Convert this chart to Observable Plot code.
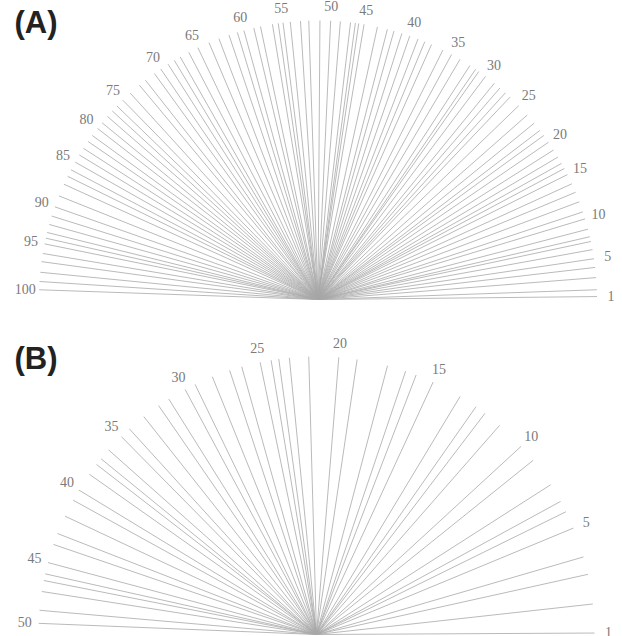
<!DOCTYPE html>
<html><head><meta charset="utf-8">
<script src="https://cdn.jsdelivr.net/npm/d3@7"></script>
<script src="https://cdn.jsdelivr.net/npm/@observablehq/plot@0.6"></script>
<style>body{margin:0;background:#fff} #c svg{display:block}</style>
</head><body><div id="c"></div>
<script>
// Ray angles (degrees)
const anglesA = [0.6,2.0,4.5,6.6,8.4,10.3,12.0,13.0,14.6,16.8,
  18.3,20.5,22.6,24.5,26.6,28.0,29.2,30.7,32.4,34.3,
  36.0,37.3,39.2,41.4,44.0,46.5,47.8,49.3,50.8,53.1,
  54.8,55.6,57.0,59.4,61.4,63.4,66.0,67.5,69.0,70.8,
  72.5,74.2,75.6,77.7,80.5,81.6,82.3,83.3,85.4,87.4,
  89.6,91.9,93.6,95.7,97.2,98.2,99.4,101.9,103.3,105.4,
  106.8,108.6,110.8,113.0,115.5,117.6,119.6,121.0,122.5,124.3,
  125.9,128.2,129.8,132.3,134.4,136.1,137.5,139.0,140.7,142.2,
  144.0,145.5,147.2,148.8,150.5,152.3,153.8,155.6,158.2,160.6,
  162.6,164.4,166.1,167.3,168.5,170.5,172.2,174.4,176.3,178.0];
const anglesB = [0.3,6.3,12.5,16.2,22.5,26.2,28.6,32.6,38.8,42.6,
  48.8,52.7,55.0,58.9,65.2,69.0,71.3,75.2,81.6,85.4,
  91.6,95.6,97.8,99.4,101.7,105.6,108.2,112.0,115.9,118.2,
  122.1,124.6,128.4,132.3,134.6,138.4,140.8,142.3,144.8,148.7,
  151.1,154.8,158.7,161.1,165.0,167.4,168.8,171.1,175.0,177.7];
const labelStep = 5;
const panelLabels = ["(A)", "(B)"];

function fan(angles, label, cx, cy, r, h, labelDy) {
  const rays = angles.map((a, i) => ({id: i + 1, a}));
  const labelled = rays.filter(d => d.id === 1 || d.id % labelStep === 0);
  const rad = d => d.a * Math.PI / 180;
  return Plot.plot({
    width: 622, height: h, margin: 0,
    x: {domain: [-1, 1], range: [cx - r, cx + r], axis: null},
    y: {domain: [0, 1], range: [cy, cy - r], axis: null},
    marks: [
      Plot.link(rays, {x1: d => 0, y1: d => 0,
        x2: d => Math.cos(rad(d)), y2: d => Math.sin(rad(d)),
        stroke: "#a8a8a8", strokeWidth: 0.8}),
      Plot.text(labelled, {x: d => 1.05 * Math.cos(rad(d)), y: d => 1.05 * Math.sin(rad(d)),
        text: d => String(d.id), fontSize: 14, fill: "#7a7a7a", fontFamily: "Liberation Serif"}),
      Plot.text([label], {frameAnchor: "top-left", dx: 14, dy: labelDy, text: d => d,
        textAnchor: "start", lineAnchor: "top", fontSize: 31, fontWeight: "bold",
        fill: "#222", fontFamily: "Liberation Sans"})
    ]
  });
}
const c = document.getElementById("c");
c.appendChild(fan(anglesA, panelLabels[0], 317.5, 299, 279, 310, 10));
c.appendChild(fan(anglesB, panelLabels[1], 316, 324, 278, 326, 36));
</script>
</body></html>
